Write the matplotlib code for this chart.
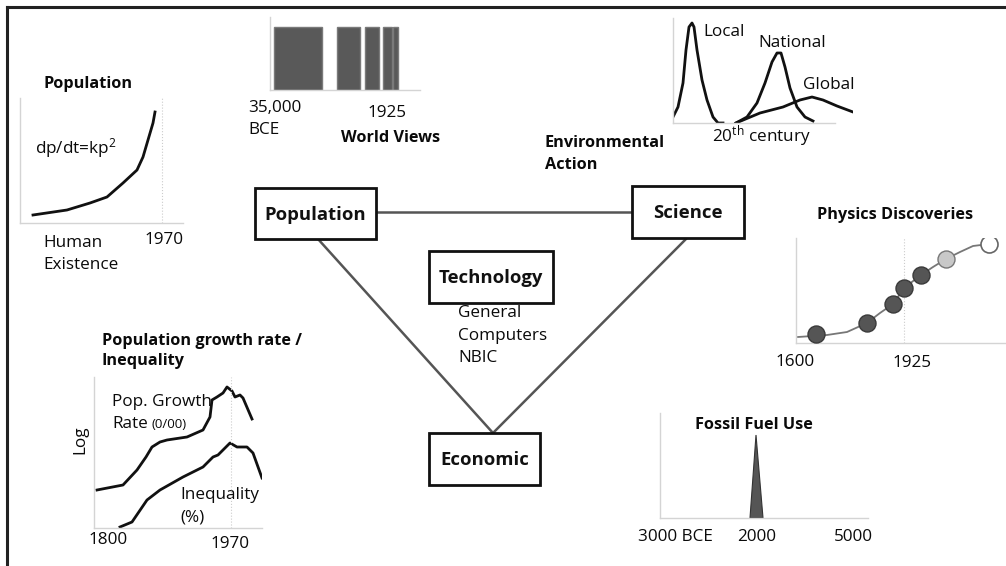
import matplotlib
matplotlib.use("Agg")
import matplotlib.pyplot as plt
from matplotlib.patches import Rectangle

plt.rcParams['font.family'] = ['Open Sans', 'DejaVu Sans']
plt.rcParams['mathtext.fontset'] = 'custom'
plt.rcParams['mathtext.rm'] = 'Open Sans'
plt.rcParams['mathtext.it'] = 'Open Sans'

W, H = 1006, 566
REG = 12.3    # regular label size
TITLE = 11.7  # bold panel titles
BOX = 13.3    # bold node labels

# ---- data (local units of each small panel) ----
pop_x = [13, 47, 70, 87, 103, 117, 123, 128, 133, 135]
pop_y = [8, 13, 20, 26, 40, 53, 66, 83, 100, 111]
pop_ticks = ["Human\nExistence", "1970"]

wv_left = [4, 67, 95, 113, 123]
wv_width = [48, 23, 14, 9, 5]
wv_height = [1, 1, 1, 1, 1]
wv_ticks = ["35,000\nBCE", "1925"]

env_local_x = [0, 5, 10, 13, 16, 19, 21, 24, 29, 34, 40, 45, 50]
env_local_y = [6, 16, 40, 73, 96, 100, 96, 73, 43, 23, 6, 0, 0]
env_nat_x = [63, 74, 84, 92, 99, 104, 108, 112, 117, 124, 132, 140]
env_nat_y = [0, 6, 20, 40, 61, 70, 70, 56, 35, 16, 6, 2]
env_glob_x = [63, 87, 110, 127, 139, 150, 164, 180]
env_glob_y = [0, 10, 16, 23, 26, 23, 17, 11]
env_names = ["Local", "National", "Global"]

phys_curve_x = [2, 31, 51, 71, 84, 97, 108, 125, 137, 150, 164, 177, 193, 201]
phys_curve_y = [6, 8, 11, 20, 30, 39, 55, 68, 76, 84, 91, 97, 99, 99]
phys_dark_x = [20, 71, 97, 108, 125]
phys_dark_y = [9, 20, 39, 55, 68]
phys_light_x = [150]
phys_light_y = [84]
phys_open_x = [193]
phys_open_y = [99]
phys_ticks = ["1600", "1925"]

growth_x = [3, 29, 43, 52, 58, 66, 73, 93, 109, 116, 118, 123, 129, 133, 138, 141, 146, 149, 158]
growth_y = [38, 43, 58, 71, 81, 86, 88, 91, 98, 111, 128, 131, 135, 141, 137, 131, 133, 130, 109]
ineq_x = [26, 38, 53, 66, 89, 109, 119, 124, 136, 143, 153, 159, 168]
ineq_y = [1, 6, 28, 38, 51, 61, 71, 73, 85, 81, 81, 75, 50]
growth_ticks = ["1800", "1970"]

fuel_x = [90, 96, 103]
fuel_y = [0, 83, 0]
fuel_ticks = ["3000 BCE", "2000", "5000"]

nodes = ["Population", "Science", "Technology", "Economic"]
tech_items = ["General", "Computers", "NBIC"]

fig = plt.figure(figsize=(W / 100, H / 100), dpi=100)
bg = fig.add_axes([0, 0, 1, 1])
bg.set_xlim(0, W)
bg.set_ylim(H, 0)
bg.axis("off")

# frame (top and left only)
bg.plot([7, W], [7, 7], color="#222222", lw=2.2)
bg.plot([7, 7], [7, H], color="#222222", lw=2.2)


def px_axes(x0, y0, x1, y1):
    ax = fig.add_axes([x0 / W, 1 - y1 / H, (x1 - x0) / W, (y1 - y0) / H])
    ax.set_xlim(0, x1 - x0)
    ax.set_ylim(0, y1 - y0)
    ax.patch.set_alpha(0)
    for s in ["top", "right"]:
        ax.spines[s].set_visible(False)
    for s in ["left", "bottom"]:
        ax.spines[s].set_color("#d4d4d4")
        ax.spines[s].set_linewidth(1.0)
    ax.set_xticks([])
    ax.set_yticks([])
    return ax


def txt(x, y, s, size=REG, bold=False, ha="left", **kw):
    bg.text(x, y, s, fontsize=size, fontweight="bold" if bold else "normal",
            ha=ha, va="center", color="#0a0a0a", **kw)


# ---- Population panel ----
ax = px_axes(20, 98, 183, 223)
ax.plot(pop_x, pop_y, color="#111111", lw=2)
ax.axvline(142, color="#cccccc", lw=0.8, ls=":")
txt(88, 84, "Population", TITLE, True, ha="center")
txt(35, 148, "dp/dt=kp$^2$")
txt(43, 243, pop_ticks[0].split("\n")[0])
txt(43, 265, pop_ticks[0].split("\n")[1])
txt(164, 240, pop_ticks[1], ha="center")

# ---- World views panel ----
ax = px_axes(270, 17, 420, 90)
ax.set_ylim(0, 1.16)
ax.bar(wv_left, wv_height, width=wv_width, align="edge",
       color="#595959", edgecolor="#7a7a7a", lw=1)
txt(248, 108, wv_ticks[0].split("\n")[0])
txt(248, 130, wv_ticks[0].split("\n")[1])
txt(387, 113, wv_ticks[1], ha="center")
txt(391, 138, "World Views", TITLE, True, ha="center")

# ---- Environmental action panel ----
ax = px_axes(673, 18, 853, 123)
ax.spines["bottom"].set_bounds(0, 162)
ax.plot(env_local_x, env_local_y, color="#111111", lw=2)
ax.plot(env_nat_x, env_nat_y, color="#111111", lw=2)
ax.plot(env_glob_x, env_glob_y, color="#111111", lw=2)
txt(703, 32, env_names[0])
txt(758, 43, env_names[1])
txt(803, 85, env_names[2])
txt(712, 136, "20$^{\\rm th}$ century")
txt(545, 143, "Environmental", TITLE, True)
txt(545, 165, "Action", TITLE, True)

# ---- Physics discoveries panel ----
ax = px_axes(796, 238, 1005, 343)
ax.plot(phys_curve_x, phys_curve_y, color="#777777", lw=1.3)
ax.axvline(108, color="#cccccc", lw=0.8, ls=":")
ax.scatter(phys_dark_x, phys_dark_y, s=150, color="#555555", edgecolor="#3a3a3a", zorder=3)
ax.scatter(phys_light_x, phys_light_y, s=150, color="#c8c8c8", edgecolor="#777777", zorder=3)
ax.scatter(phys_open_x, phys_open_y, s=150, color="white", edgecolor="#666666", lw=1.2, zorder=3)
txt(895, 215, "Physics Discoveries", TITLE, True, ha="center")
txt(795, 362, phys_ticks[0], ha="center")
txt(912, 363, phys_ticks[1], ha="center")

# ---- Population growth / inequality panel ----
ax = px_axes(94, 377, 262, 528)
ax.plot(growth_x, growth_y, color="#111111", lw=2)
ax.plot(ineq_x, ineq_y, color="#111111", lw=2)
ax.axvline(137, color="#cccccc", lw=0.8, ls=":")
txt(102, 341, "Population growth rate /", TITLE, True)
txt(102, 361, "Inequality", TITLE, True)
txt(80, 440, "Log", ha="center", rotation=90)
txt(112, 402, "Pop. Growth")
txt(112, 424, "Rate")
txt(152, 425, "(0/00)", 9.5)
txt(180, 495, "Inequality")
txt(180, 517, "(%)")
txt(108, 540, growth_ticks[0], ha="center")
txt(230, 544, growth_ticks[1], ha="center")

# ---- Fossil fuel panel ----
ax = px_axes(660, 413, 868, 518)
ax.fill(fuel_x, fuel_y, color="#555555", edgecolor="#333333", lw=0.8)
txt(754, 425, "Fossil Fuel Use", TITLE, True, ha="center")
txt(675, 537, fuel_ticks[0], ha="center")
txt(757, 537, fuel_ticks[1], ha="center")
txt(853, 537, fuel_ticks[2], ha="center")

# ---- central diagram ----
boxes = {
    "Population": (255, 188, 376, 239),
    "Science": (632, 186, 744, 238),
    "Technology": (429, 251, 553, 303),
    "Economic": (429, 433, 540, 485),
}
line_kw = dict(color="#555555", lw=1.8, zorder=1)
bg.plot([376, 632], [212, 212], **line_kw)
bg.plot([318, 493], [239, 433], **line_kw)
bg.plot([687, 493], [238, 433], **line_kw)
for name in nodes:
    x0, y0, x1, y1 = boxes[name]
    bg.add_patch(Rectangle((x0, y0), x1 - x0, y1 - y0, facecolor="white",
                           edgecolor="#111111", lw=2, zorder=2))
    bg.text((x0 + x1) / 2, (y0 + y1) / 2 + 1, name, fontsize=BOX, fontweight="bold",
            ha="center", va="center", color="#111111", zorder=3)
for i, item in enumerate(tech_items):
    txt(458, 313 + i * 22.5, item)

fig.savefig("out.png", dpi=100)
